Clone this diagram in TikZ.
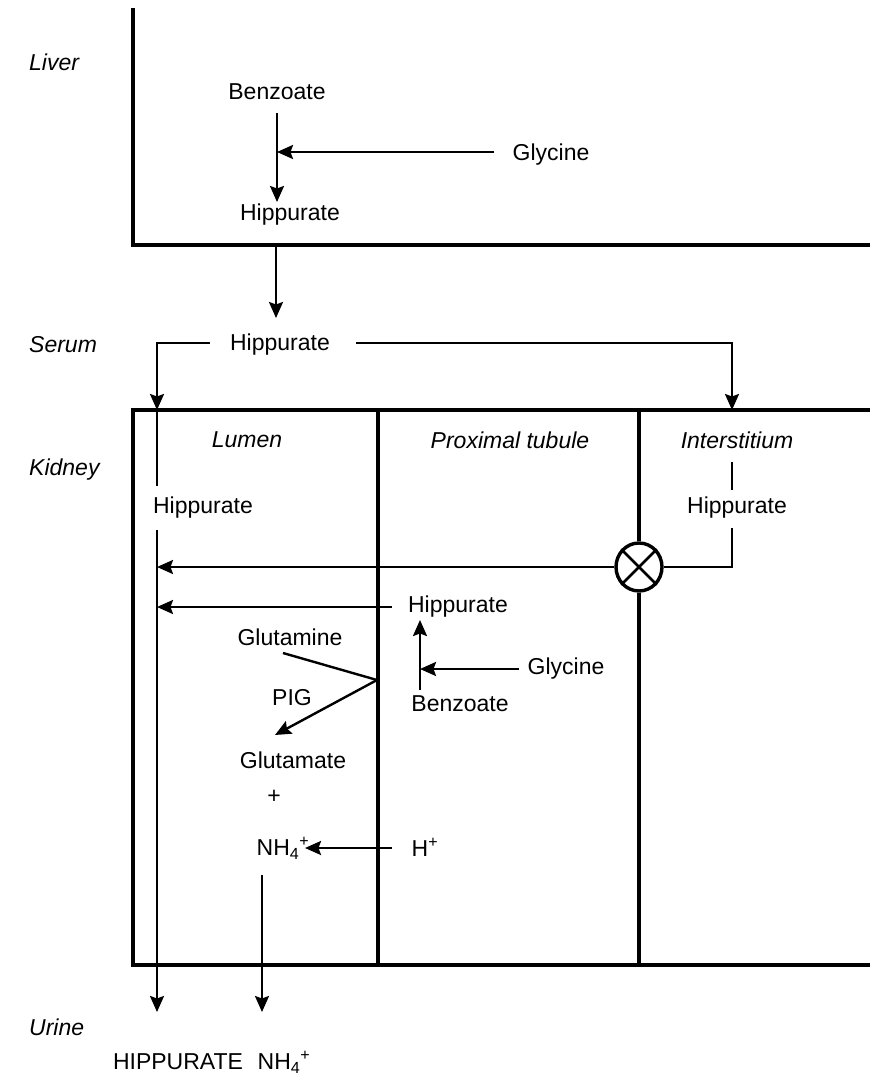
\documentclass[tikz,border=0pt]{standalone}
\usepackage{fontspec}
\setmainfont{Liberation Sans}
\usetikzlibrary{arrows.meta,calc,shapes.geometric}
\begin{document}
\begin{tikzpicture}[x=1pt,y=-1pt,
  every node/.style={font=\fontsize{23}{26}\selectfont, inner sep=0pt},
  lab/.style={anchor=west, font=\fontsize{23}{26}\selectfont\itshape},
  reg/.style={font=\fontsize{23}{26}\selectfont\itshape},
  frame/.style={line width=3.8pt},
  conn/.style={line width=2.4pt},
  arr/.style={line width=2.4pt, -{Stealth[length=16pt,width=14pt,inset=2.5pt]}}]
\useasboundingbox (0,0) rectangle (870,1087);

% side labels
\node[lab] (liver) at (29,62) {Liver};
\node[lab] (serum) at (29,345) {Serum};
\node[lab] (kidney) at (29,470) {Kidney};
\node[lab] (urine) at (29,1027) {Urine};

% liver frame
\draw[frame] (133,8) -- (133,245) -- (870,245);

% liver reaction
\node (benzL) at (277,92) {Benzoate};
\node (glyL) at (551,155) {Glycine};
\node (hipL) at (290,215) {Hippurate};
\coordinate (jL) at (277,152);
\draw[arr] (277,113) -- (277,202);
\draw[arr] (glyL.west) ++(-18,-3) -- (jL);

% liver to serum
\coordinate (lvout) at (276,245);
\node (hipS) at (280,345) {Hippurate};
\draw[arr] (lvout) -- (276,318);
\draw[arr] (hipS.west) ++(-20,-2) -| (157,410);
\draw[arr] (hipS.east) ++(26,-2) -| (732,410);

% kidney frame
\draw[frame] (870,410) -- (133,410) -- (133,965) -- (870,965);
\node[draw, line width=3.4pt, ellipse, minimum width=46pt, minimum height=48pt] (pump) at (639,567) {};
\draw[frame] (639,410) -- (pump.north);
\draw[frame] (pump.south) -- (639,965);
\draw[frame] (378,410) -- (378,965);
\draw[line width=2.6pt] (pump.135) -- (pump.315);
\draw[line width=2.6pt] (pump.45) -- (pump.225);

% region titles
\node[reg] (lumen) at (247,440) {Lumen};
\node[reg] (prox) at (510,440) {Proximal tubule};
\node[reg] (inter) at (737,440) {Interstitium};

% lumen hippurate line
\node (hipLu) at (203,508) {Hippurate};
\draw[conn] (157,410) -- (157,486);
\draw[arr] (157,530) -- (157,1012);

% interstitium hippurate
\node (hipI) at (737,508) {Hippurate};
\draw[conn] (732,462) -- (732,490);
\draw[conn] (732,528) -- (732,567) -- (pump.east);
\draw[arr] (pump.west) -- (157,567);

% proximal tubule synthesis
\node (hipP) at (458,607) {Hippurate};
\draw[arr] (hipP.west) ++(-16,0) -- (157,607);
\node (glyP) at (566,669) {Glycine};
\node (benzP) at (460,704) {Benzoate};
\coordinate (jP) at (420,669);
\draw[arr] (420,690) -- (420,620);
\draw[arr] (glyP.west) ++(-8,0) -- (jP);

% glutamine -> glutamate
\node (gln) at (290,637) {Glutamine};
\node (pig) at (292,698) {PIG};
\node (glu) at (293,760) {Glutamate};
\node (plus) at (274,797) {+};
\node (nh4) at (283,848) {NH\textsubscript{4}\textsuperscript{+}};
\node (hplus) at (425,847) {H\textsuperscript{+}};
\coordinate (kink) at (377,680);
\draw[conn] (283,653) -- (kink);
\draw[arr] (kink) -- (275,735);
\draw[arr] (hplus.west) ++(-20,1) -- (305,848);
\draw[arr] (262,875) -- (262,1012);

% urine products
\node (hipU) at (178,1062) {HIPPURATE};
\node (nh4U) at (284,1062) {NH\textsubscript{4}\textsuperscript{+}};
\end{tikzpicture}
\end{document}
